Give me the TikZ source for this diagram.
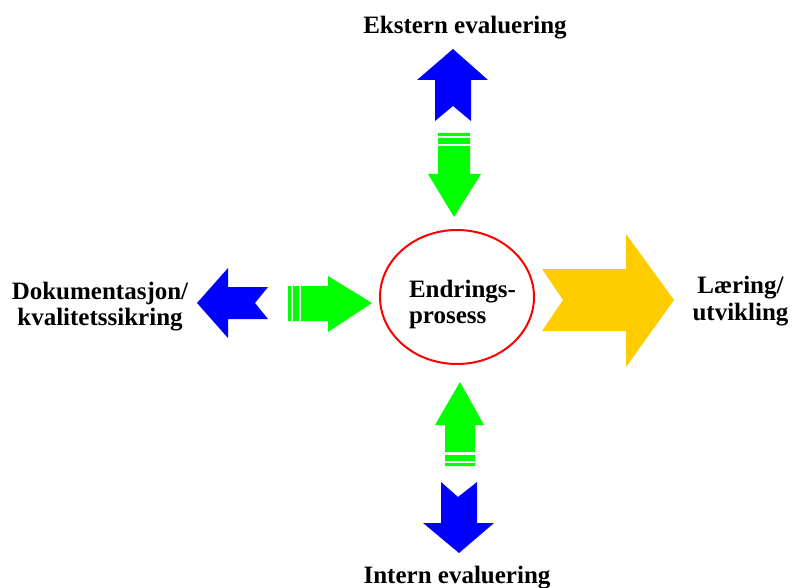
\documentclass[tikz,border=0pt]{standalone}
\usepackage{fontspec}
\setmainfont{Liberation Serif}
\usetikzlibrary{shapes.geometric}
\definecolor{arrowblue}{RGB}{0,0,255}
\definecolor{arrowgreen}{RGB}{0,255,0}
\definecolor{arrowgold}{RGB}{255,204,0}
\definecolor{ringred}{RGB}{255,0,0}

\begin{document}
\begin{tikzpicture}[x=1pt,y=-1pt,
 lbl/.style={inner sep=0pt,font=\fontsize{25}{26.5}\selectfont\bfseries,align=center},
 bluearrow/.style={fill=arrowblue},
 greenarrow/.style={fill=arrowgreen},
 goldarrow/.style={fill=arrowgold}]
\useasboundingbox (0,0) rectangle (792,588);
\node[ellipse,draw=ringred,line width=2pt,minimum width=154pt,
 minimum height=134pt] (core) at (457,297) {};
\node[lbl,align=left] (coretext) at (462.5,304.6) {Endrings-\\prosess};
\node[lbl,anchor=base] (ekstern) at (465,34) {Ekstern evaluering};
\node[lbl,anchor=base] (intern) at (457,583) {Intern evaluering};
\node[lbl] (dok) at (100,306.5) {Dokumentasjon/\\kvalitetssikring};
\node[lbl] (laering) at (740.5,301) {L\ae ring/\\utvikling};
% top
\fill[bluearrow] (453,49) -- (488,80) -- (471,80) -- (471,121) -- (453,106)
 -- (435,121) -- (435,80) -- (417,80) -- cycle;
\fill[greenarrow] (438,133) rectangle (470,136) (438,138) rectangle (470,144);
\fill[greenarrow] (438,146) -- (470,146) -- (470,174) -- (481,174) -- (454,217)
 -- (428,174) -- (438,174) -- cycle;
% left
\fill[bluearrow] (197,303) -- (228,268) -- (228,287) -- (268,287) -- (255,303)
 -- (268,319) -- (228,319) -- (228,338) -- cycle;
\fill[greenarrow] (288,286) rectangle (291,321) (293,286) rectangle (299,321);
\fill[greenarrow] (301,286) -- (328,286) -- (328,276) -- (372,303) -- (328,332)
 -- (328,321) -- (301,321) -- cycle;
% bottom
\fill[greenarrow] (460,382) -- (484,425) -- (475,425) -- (475,452) -- (445,452)
 -- (445,425) -- (435,425) -- cycle;
\fill[greenarrow] (445,455) rectangle (475,461) (445,463) rectangle (475,466);
\fill[bluearrow] (441,482) -- (458,497) -- (477,482) -- (477,523) -- (494,523)
 -- (459,553) -- (423,523) -- (441,523) -- cycle;
% right
\fill[goldarrow] (542,269) -- (626,269) -- (626,234) -- (674,300) -- (626,367)
 -- (626,331) -- (542,331) -- (563,300) -- cycle;
\end{tikzpicture}
\end{document}
